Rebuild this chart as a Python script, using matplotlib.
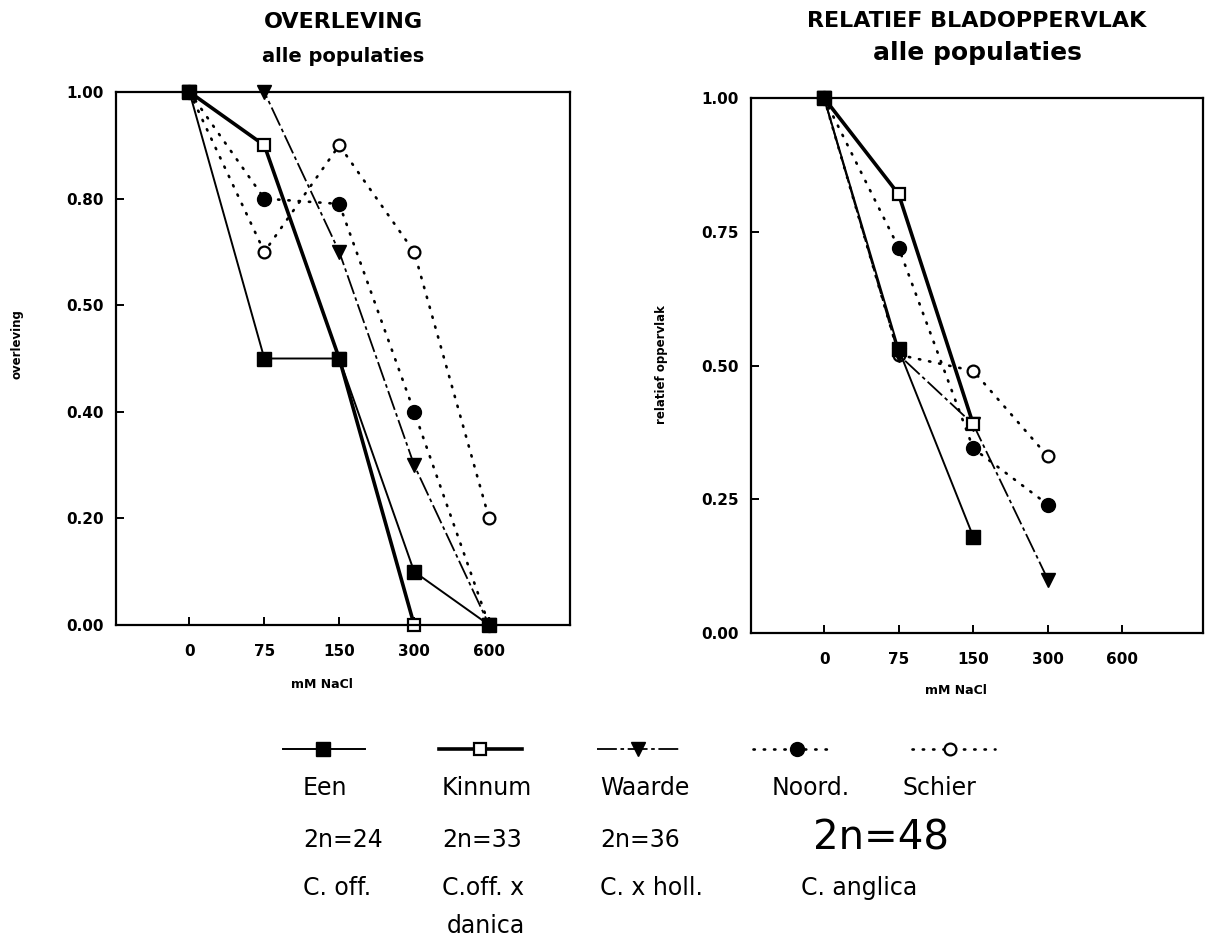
import numpy as np
import matplotlib
matplotlib.use("Agg")
import matplotlib.pyplot as plt

# zoutconcentraties (categorische as)
nacl = ["0", "75", "150", "300", "600"]

# overleving per populatie
een_overl = [1.0, 0.5, 0.5, 0.1, 0.0]
kinnum_overl = [1.0, 0.9, 0.5, 0.0, np.nan]
waarde_overl = [1.0, 1.0, 0.7, 0.3, 0.0]
noord_overl = [1.0, 0.8, 0.79, 0.4, 0.0]
schier_overl = [1.0, 0.7, 0.9, 0.7, 0.2]

# relatief bladoppervlak per populatie
een_blad = [1.0, 0.53, 0.18, np.nan, np.nan]
kinnum_blad = [1.0, 0.82, 0.39, np.nan, np.nan]
waarde_blad = [1.0, 0.52, 0.39, 0.10, np.nan]
noord_blad = [1.0, 0.72, 0.345, 0.24, np.nan]
schier_blad = [1.0, 0.52, 0.49, 0.33, np.nan]

populaties = ["Een", "Kinnum", "Waarde", "Noord.", "Schier"]
chromosomen = ["2n=24", "2n=33", "2n=36"]
soorten = ["C. off.", "C.off. x", "C. x holl.", "C. anglica"]

# lijnstijlen per populatie
stijlen = {
    "Een": dict(color="black", lw=1.4, ls="-", marker="s", ms=10, mfc="black", mec="black"),
    "Kinnum": dict(color="black", lw=2.6, ls="-", marker="s", ms=9, mfc="white", mec="black", mew=1.6),
    "Waarde": dict(color="black", lw=1.3, ls=(0, (11, 2, 2, 2)), marker="v", ms=10, mfc="black", mec="black"),
    "Noord.": dict(color="black", lw=1.9, ls=(0, (0.5, 3.4)), dash_capstyle="round", marker="o", ms=10, mfc="black", mec="black"),
    "Schier": dict(color="black", lw=1.9, ls=(0, (0.5, 3.4)), dash_capstyle="round", marker="o", ms=8.5, mfc="white", mec="black", mew=1.6),
}

W, H = 1230, 940
fig = plt.figure(figsize=(W / 100, H / 100), dpi=100)

def px_axes(x0, y0, x1, y1):
    return fig.add_axes([x0 / W, 1 - y1 / H, (x1 - x0) / W, (y1 - y0) / H])

ax1 = px_axes(116, 92, 570, 625)
ax2 = px_axes(751, 98, 1203, 633)

xpos = np.arange(len(nacl))
reeksen1 = [een_overl, kinnum_overl, waarde_overl, noord_overl, schier_overl]
reeksen2 = [een_blad, kinnum_blad, waarde_blad, noord_blad, schier_blad]

for ax, reeksen in [(ax1, reeksen1), (ax2, reeksen2)]:
    # Schier/Noord first so the solid lines sit on top
    for naam, y in reversed(list(zip(populaties, reeksen))):
        y = np.array(y, dtype=float)
        ok = ~np.isnan(y)
        ax.plot(xpos[ok], y[ok], clip_on=False, **stijlen[naam])
    ax.set_xlim(-0.98, 5.08)
    ax.set_ylim(0, 1)
    ax.set_xticks(xpos)
    ax.set_xticklabels(nacl)
    for s in ax.spines.values():
        s.set_linewidth(1.6)
    ax.tick_params(direction="in", length=6, width=1.4, labelsize=11, pad=9)
    ax.tick_params(axis="x", pad=14)
    for lab in ax.get_xticklabels() + ax.get_yticklabels():
        lab.set_fontweight("bold")

ax1.set_yticks([0, 0.2, 0.4, 0.6, 0.8, 1.0])
ax1.set_yticklabels(["0.00", "0.20", "0.40", "0.50", "0.80", "1.00"], fontweight="bold")
ax2.set_yticks([0, 0.25, 0.5, 0.75, 1.0])
ax2.set_yticklabels(["0.00", "0.25", "0.50", "0.75", "1.00"], fontweight="bold")

# overlay in pixels for titles, labels and the legend block
ov = fig.add_axes([0, 0, 1, 1], zorder=-1)
ov.set_xlim(0, W)
ov.set_ylim(H, 0)
ov.axis("off")

ov.text(343, 22, "OVERLEVING", ha="center", va="center", fontsize=16, fontweight="heavy")
ov.text(343, 56, "alle populaties", ha="center", va="center", fontsize=14, fontweight="heavy")
ov.text(977, 21, "RELATIEF BLADOPPERVLAK", ha="center", va="center", fontsize=16, fontweight="heavy")
ov.text(977, 53, "alle populaties", ha="center", va="center", fontsize=18, fontweight="heavy")

ov.text(17, 344, "overleving", rotation=90, ha="center", va="center", fontsize=8.5, fontweight="bold")
ov.text(662, 365, "relatief oppervlak", rotation=90, ha="center", va="center", fontsize=8.5, fontweight="bold")
ov.text(322, 684, "mM NaCl", ha="center", va="center", fontsize=9, fontweight="bold")
ov.text(956, 690, "mM NaCl", ha="center", va="center", fontsize=9, fontweight="bold")

# legend: short line samples with marker
monsters = [(283, 365, 323), (439, 522, 480), (597, 680, 638), (753, 833, 797), (912, 995, 950)]
for naam, (xa, xb, xm) in zip(populaties, monsters):
    st = dict(stijlen[naam])
    st.pop("marker"); ms = st.pop("ms"); mfc = st.pop("mfc"); mec = st.pop("mec"); mew = st.pop("mew", 1.0)
    ov.plot([xa, xb], [749, 749], **st)
    ov.plot([xm], [749], marker=stijlen[naam]["marker"], ms=ms, mfc=mfc, mec=mec, mew=mew, ls="none")

kolom_x = [303, 442, 600, 772, 903]
tfs = 17
for x, t in zip(kolom_x, populaties):
    ov.text(x, 795, t, ha="left", va="baseline", fontsize=tfs)
for x, t in zip(kolom_x[:3], chromosomen):
    ov.text(x, 847, t, ha="left", va="baseline", fontsize=tfs)
ov.text(813, 850, "2n=48", ha="left", va="baseline", fontsize=29)
for x, t in zip([303, 442, 600, 801], soorten):
    ov.text(x, 895, t, ha="left", va="baseline", fontsize=tfs)
ov.text(447, 933, "danica", ha="left", va="baseline", fontsize=tfs)

fig.savefig("out.png", dpi=100)
